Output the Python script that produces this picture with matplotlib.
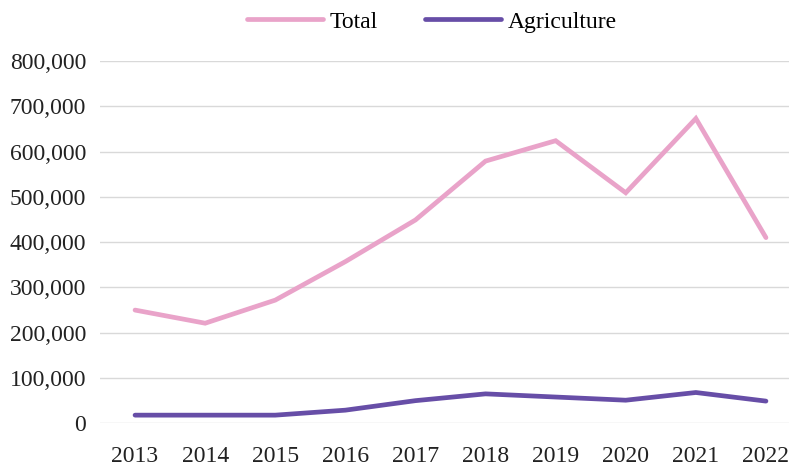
import matplotlib
matplotlib.use('Agg')
import matplotlib.pyplot as plt
from matplotlib.ticker import FuncFormatter

years = ['2013', '2014', '2015', '2016', '2017', '2018', '2019', '2020', '2021', '2022']
total = [250000, 221000, 272000, 357000, 449000, 579000, 624000, 509000, 673000, 410000]
agriculture = [18000, 18000, 18000, 29000, 50000, 65000, 58000, 51000, 68000, 49000]

plt.rcParams['font.family'] = ['Liberation Serif', 'DejaVu Serif']

fig = plt.figure(figsize=(7.89, 4.70), dpi=100)
ax = fig.add_axes([100 / 789, 1 - 423.3 / 470, 701 / 789, (423.3 - 61) / 470])

x = range(len(years))
ax.plot(x, total, color='#E9A3C9', lw=3.4, solid_capstyle='round', solid_joinstyle='miter', label='Total')
ax.plot(x, agriculture, color='#674EA7', lw=3.4, solid_capstyle='round', solid_joinstyle='miter', label='Agriculture')

ax.set_xlim(-0.5, len(years) - 0.5)
ax.set_ylim(0, 800000)
ax.set_yticks(range(0, 800001, 100000))
ax.yaxis.set_major_formatter(FuncFormatter(lambda v, p: f'{int(v):,}'))
ax.set_xticks(list(x))
ax.set_xticklabels(years)
ax.grid(axis='y', color='#d9d9d9', lw=1)
ax.set_axisbelow(True)
for s in ax.spines.values():
    s.set_visible(False)
ax.tick_params(axis='both', length=0, labelsize=17, colors='#222222')
ax.tick_params(axis='y', pad=10)
ax.tick_params(axis='x', pad=16)

fig.legend(loc='center', bbox_to_anchor=(432 / 789, 1 - 22 / 470), ncol=2, frameon=False,
           fontsize=17, handlelength=3.2, handletextpad=0.3, columnspacing=2.0)

fig.savefig('out.png', dpi=100)
